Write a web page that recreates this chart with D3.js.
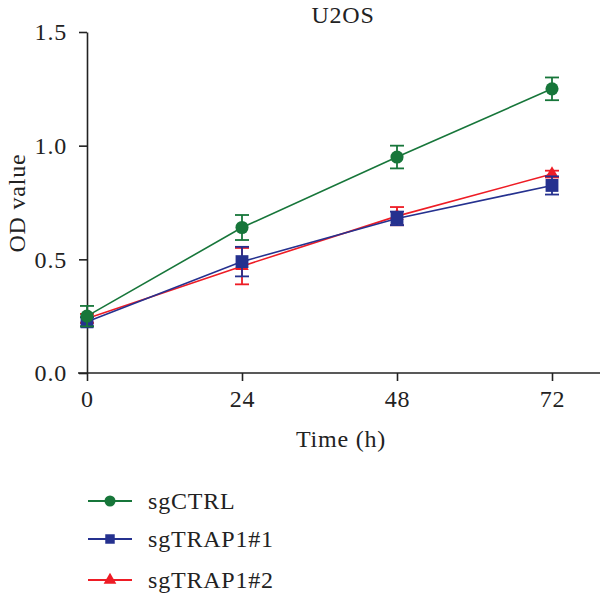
<!DOCTYPE html>
<html>
<head>
<meta charset="utf-8">
<script src="https://cdn.jsdelivr.net/npm/d3@7/dist/d3.min.js"></script>
<style>
  body { margin: 0; background: #fff; }
  svg text { font-family: "Liberation Serif", "DejaVu Serif", serif; fill: #222; letter-spacing: 0.8px; }
</style>
</head>
<body>
<svg width="600" height="596"></svg>
<script>
// data
const times = [0, 24, 48, 72]
const ctrlMean = [0.25, 0.64, 0.95, 1.25]
const ctrlErr = [0.045, 0.055, 0.05, 0.05]
const trap1Mean = [0.225, 0.49, 0.68, 0.825]
const trap1Err = [0.02, 0.065, 0.03, 0.04]
const trap2Mean = [0.24, 0.47, 0.69, 0.875]
const trap2Err = [0.02, 0.08, 0.04, 0.015]
const yTicks = [0, 0.5, 1.0, 1.5]

const seriesNames = ['sgCTRL', 'sgTRAP1#1', 'sgTRAP1#2']
const seriesColors = ['#17763a', '#25318f', '#ee1c25']
const seriesSymbols = [d3.symbolCircle, d3.symbolSquare, d3.symbolTriangle]
const symbolSizes = [135, 165, 80]
const legendSizes = [95, 90, 70]

const series = [
  { mean: ctrlMean, err: ctrlErr },
  { mean: trap1Mean, err: trap1Err },
  { mean: trap2Mean, err: trap2Err }
].map((s, i) => ({
  name: seriesNames[i], color: seriesColors[i], symbol: seriesSymbols[i],
  points: times.map((t, j) => ({ t, v: s.mean[j], e: s.err[j] }))
}))

const svg = d3.select('svg')
const fs = 24

const x = d3.scaleLinear().domain([0, 72]).range([87, 552])
const y = d3.scaleLinear().domain([0, 1.5]).range([373, 32])

// axes
const xAxis = svg.append('g')
  .attr('transform', `translate(0,${y(0)})`)
  .call(d3.axisBottom(x).tickValues(times).tickSize(8).tickPadding(9).tickSizeOuter(0))
xAxis.select('.domain').attr('d', `M${x(0) - 9},0H600`)

const yAxis = svg.append('g')
  .attr('transform', `translate(${x(0)},0)`)
  .call(d3.axisLeft(y).tickValues(yTicks).tickFormat(d3.format('.1f')).tickSize(8).tickPadding(12).tickSizeOuter(0))

svg.selectAll('.domain, .tick line').attr('stroke', '#222').attr('stroke-width', 1.6)
svg.selectAll('.tick text').attr('font-size', fs).attr('fill', '#222')
  .style('font-family', '"Liberation Serif", serif')

// titles
svg.append('text').attr('x', 343).attr('y', 23).attr('text-anchor', 'middle')
  .attr('font-size', fs).text('U2OS')
svg.append('text').attr('x', 341).attr('y', 447).attr('text-anchor', 'middle')
  .attr('font-size', fs).text('Time (h)')
svg.append('text').attr('transform', `translate(25,203) rotate(-90)`)
  .attr('text-anchor', 'middle').attr('font-size', fs).text('OD value')

const line = d3.line().x(d => x(d.t)).y(d => y(d.v))

const drawOrder = [2, 1, 0]
drawOrder.forEach(i => {
  const s = series[i]
  const g = svg.append('g')
  g.append('path').datum(s.points).attr('d', line)
    .attr('fill', 'none').attr('stroke', s.color).attr('stroke-width', 1.6)
  const eb = g.selectAll('.eb').data(s.points).enter().append('g')
  eb.append('line').attr('x1', d => x(d.t)).attr('x2', d => x(d.t))
    .attr('y1', d => y(d.v + d.e)).attr('y2', d => y(d.v - d.e))
    .attr('stroke', s.color).attr('stroke-width', 1.8)
  ;[1, -1].forEach(sg => {
    eb.append('line').attr('x1', d => x(d.t) - 7).attr('x2', d => x(d.t) + 7)
      .attr('y1', d => y(d.v + sg * d.e)).attr('y2', d => y(d.v + sg * d.e))
      .attr('stroke', s.color).attr('stroke-width', 1.8)
  })
  g.selectAll('.pt').data(s.points).enter().append('path')
    .attr('transform', d => `translate(${x(d.t)},${y(d.v)})`)
    .attr('d', d3.symbol().type(s.symbol).size(symbolSizes[i]))
    .attr('fill', s.color)
})

// legend
const legendY = [501, 539, 580]
series.forEach((s, i) => {
  const lg = svg.append('g').attr('transform', `translate(0,${legendY[i]})`)
  lg.append('line').attr('x1', 88).attr('x2', 132).attr('stroke', s.color).attr('stroke-width', 1.8)
  lg.append('path').attr('transform', 'translate(110,0)')
    .attr('d', d3.symbol().type(s.symbol).size(legendSizes[i])).attr('fill', s.color)
  lg.append('text').attr('x', 148).attr('y', 4 + 4).attr('font-size', fs).text(s.name)
})
</script>
</body>
</html>
